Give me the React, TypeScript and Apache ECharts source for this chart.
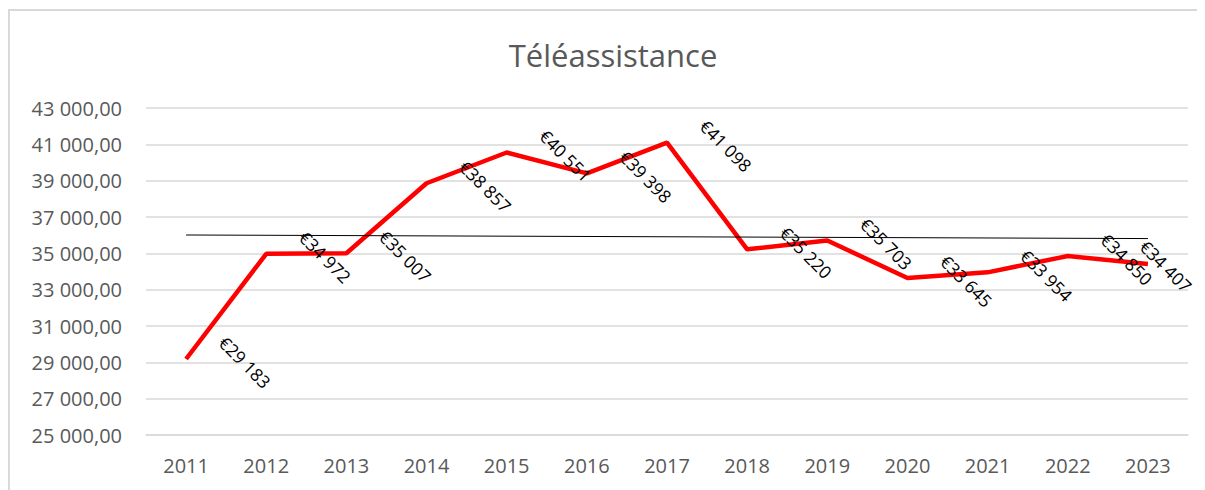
import React, { useEffect, useRef } from "react";
import * as echarts from "echarts";

const years = ["2011", "2012", "2013", "2014", "2015", "2016", "2017", "2018", "2019", "2020", "2021", "2022", "2023"];
const values = [29183, 34972, 35007, 38857, 40551, 39398, 41098, 35220, 35703, 33645, 33954, 34850, 34407];
const trendYears = ["2011", "2023"];
const trendValues = [36010, 35813];
const yTicks = { min: 25000, max: 43000, interval: 2000 };
const titleText = "Téléassistance";

const group = (n: number) => String(Math.round(n)).replace(/\B(?=(\d{3})+(?!\d))/g, " ");

export default function App() {
  const ref = useRef<HTMLDivElement>(null);
  useEffect(() => {
    document.body.style.overflow = "hidden";
    if (!ref.current) return;
    const chart = echarts.init(ref.current, null, { renderer: "svg" });
    const font = "'Open Sans', sans-serif";
    const lineData = values.map((v, i) =>
      i === values.length - 1 ? { value: v, label: { position: [19, 3] } } : { value: v }
    );
    chart.setOption({
      animation: false,
      textStyle: { fontFamily: font },
      graphic: [
        {
          type: "text",
          x: 603,
          y: 44,
          style: {
            text: titleText,
            font: `31px ${font}`,
            fill: "#595959",
            align: "center",
            verticalAlign: "middle",
          },
        },
      ],
      grid: { left: 136, top: 97, width: 1042, height: 327, containLabel: false },
      xAxis: {
        type: "category",
        data: years,
        boundaryGap: true,
        axisTick: { show: false },
        axisLine: { show: true, lineStyle: { color: "#d9d9d9", width: 1.5 } },
        axisLabel: { color: "#595959", fontSize: 20, fontFamily: font, margin: 20 },
      },
      yAxis: {
        type: "value",
        min: yTicks.min,
        max: yTicks.max,
        interval: yTicks.interval,
        axisLine: { show: false },
        axisTick: { show: false },
        splitLine: { lineStyle: { color: "#d9d9d9", width: 1.5 } },
        axisLabel: {
          color: "#595959",
          fontSize: 20,
          fontFamily: font,
          margin: 24,
          formatter: (v: number) => group(v) + ",00",
        },
      },
      series: [
        {
          type: "line",
          data: lineData,
          symbol: "circle",
          symbolSize: 2,
          showSymbol: true,
          itemStyle: { color: "rgba(255,0,0,0)" },
          lineStyle: { color: "#ff0000", width: 4.5 },
          z: 2,
          label: {
            show: true,
            position: [60, 4],
            rotate: -45,
            align: "center",
            verticalAlign: "middle",
            color: "#000000",
            fontSize: 17.5,
            fontFamily: font,
            formatter: (p: any) => "€" + group(p.value),
          },
        },
        {
          type: "line",
          data: trendYears.map((y, i) => [y, trendValues[i]]),
          symbol: "none",
          silent: true,
          lineStyle: { color: "#000000", width: 1 },
          z: 3,
        },
      ],
    });
    return () => chart.dispose();
  }, []);
  return (
    <div
      style={{
        marginTop: 1,
        width: 1197,
        height: 481,
        borderTop: "2px solid #d9d9d9",
        borderLeft: "2px solid #d9d9d9",
        boxSizing: "border-box",
        position: "relative",
      }}
    >
      <div ref={ref} style={{ position: "absolute", left: 0, top: 0, width: 1195, height: 479 }} />
    </div>
  );
}
